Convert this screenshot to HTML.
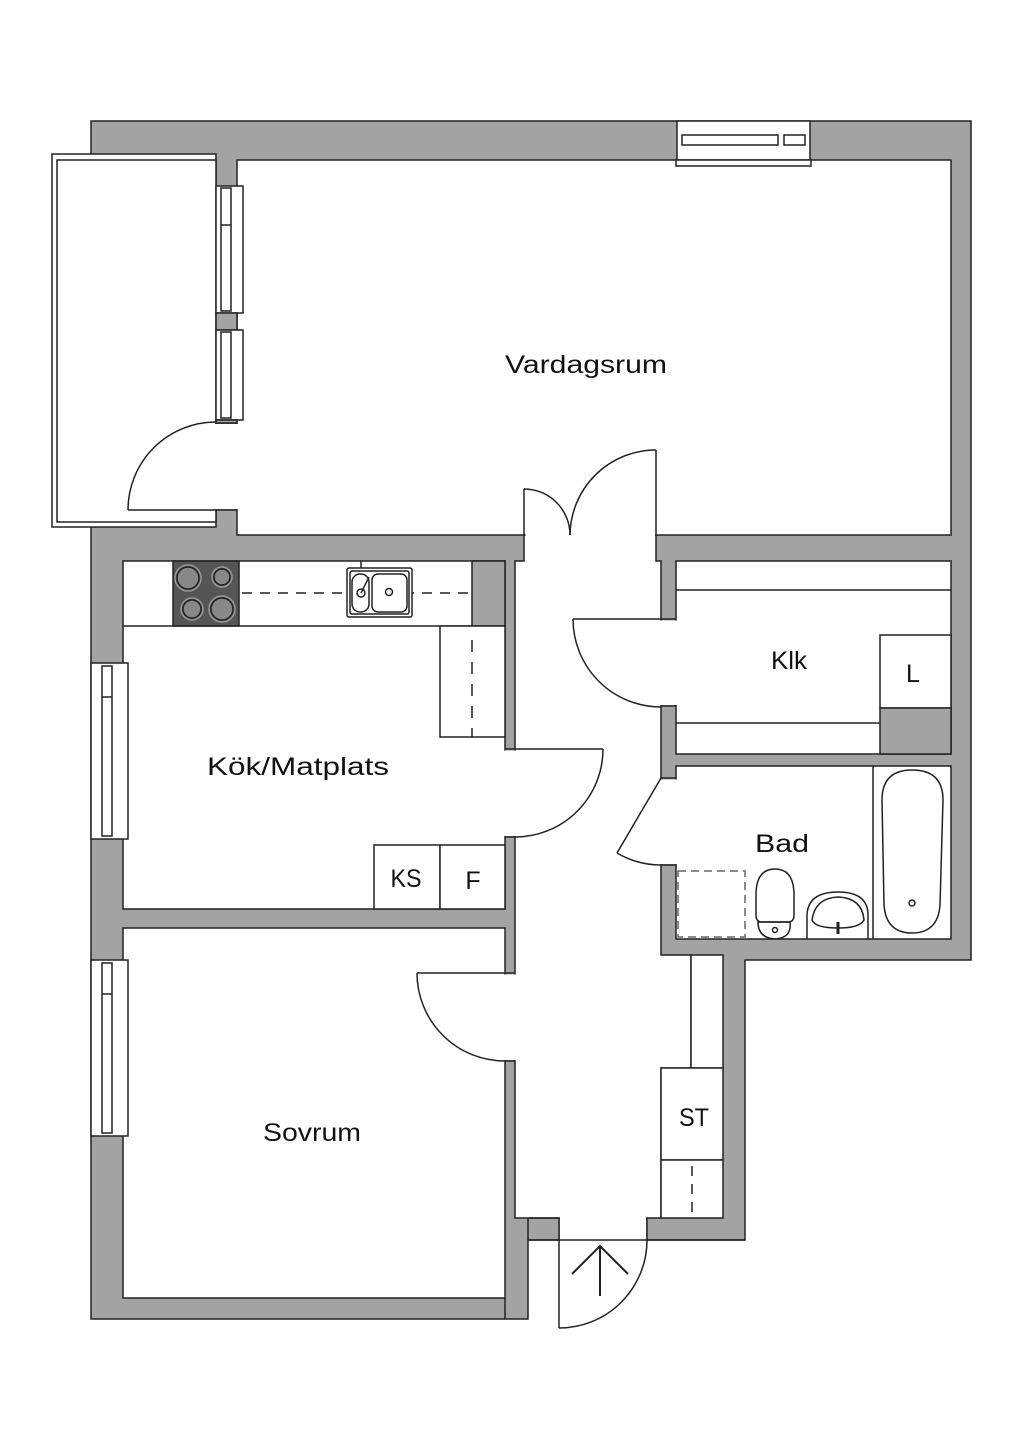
<!DOCTYPE html>
<html><head><meta charset="utf-8"><style>
html,body{margin:0;padding:0;background:#fff;}
svg{display:block;}
text{font-family:"Liberation Sans",sans-serif;fill:#111;font-size:25px;}
</style></head><body>
<svg width="1024" height="1448" viewBox="0 0 1024 1448" xmlns="http://www.w3.org/2000/svg">
<g stroke="#222" stroke-width="1.5" fill="none">
<polygon points="91,121 971,121 971,960 745,960 745,1240 528,1240 528,1319 91,1319" fill="#a3a3a3"/>
<rect x="52" y="154" width="164" height="373" fill="#fff"/>
<rect x="57" y="160" width="159" height="362" fill="#fff"/>
<rect x="237" y="160" width="714" height="375" fill="#fff"/>
<rect x="123" y="561" width="382" height="348" fill="#fff"/>
<rect x="123" y="928" width="382" height="370" fill="#fff"/>
<rect x="676" y="561" width="275" height="193" fill="#fff"/>
<rect x="676" y="766" width="275" height="173" fill="#fff"/>
<polygon points="524,535 656,535 656,561 661,561 661,955 691,955 691,1068 661,1068 661,1218 515,1218 515,561 524,561" fill="#fff"/>
<rect x="691" y="955" width="32" height="113" fill="#fff"/>
</g>
<g fill="#fff">
<rect x="525.5" y="530" width="129.5" height="10"/>
<rect x="213" y="424" width="27" height="85"/>
<rect x="503" y="750.5" width="14" height="85.5"/>
<rect x="503" y="974.5" width="14" height="85.5"/>
<rect x="659" y="620.5" width="19" height="84.5"/>
<rect x="659" y="779.5" width="19" height="84.5"/>
<rect x="560" y="1216" width="86" height="26"/>
</g>
<g stroke="#222" stroke-width="1.5" fill="none">
<line x1="216" y1="423" x2="237" y2="423"/><line x1="216" y1="510" x2="237" y2="510"/>
<line x1="505" y1="749" x2="515" y2="749"/><line x1="505" y1="837" x2="515" y2="837"/>
<line x1="505" y1="973" x2="515" y2="973"/><line x1="505" y1="1061" x2="515" y2="1061"/>
<line x1="661" y1="619" x2="676" y2="619"/><line x1="661" y1="706" x2="676" y2="706"/>
<line x1="661" y1="778" x2="676" y2="778"/><line x1="661" y1="865" x2="676" y2="865"/>
<line x1="647" y1="1218" x2="647" y2="1240"/>
<line x1="528" y1="1240" x2="745" y2="1240"/>
<line x1="528" y1="1218" x2="559" y2="1218"/><line x1="528" y1="1218" x2="528" y2="1240"/>
<line x1="505" y1="1298" x2="505" y2="1319"/>
<line x1="128" y1="510" x2="216" y2="510"/><path d="M216,422 A88,88 0 0 0 128,510"/>
<line x1="524" y1="489" x2="524" y2="535"/><path d="M524,489 A46,46 0 0 1 570,535"/>
<line x1="656" y1="450" x2="656" y2="535"/><path d="M656,450 A86,86 0 0 0 570,535"/>
<line x1="515" y1="749" x2="603" y2="749"/><path d="M603,749 A88,88 0 0 1 515,837"/>
<line x1="417" y1="973" x2="505" y2="973"/><path d="M417,973 A88,88 0 0 0 505,1061"/>
<line x1="573" y1="619" x2="661" y2="619"/><path d="M573,619 A88,88 0 0 0 661,707"/>
<line x1="661" y1="778" x2="617" y2="853"/><path d="M617,853 A87,87 0 0 0 661,865"/>
<line x1="559" y1="1218" x2="559" y2="1328"/><path d="M647,1240 A88,88 0 0 1 559,1328"/>
<g stroke-width="2"><line x1="600" y1="1246" x2="600" y2="1296"/><polyline points="572,1274 600,1246 628,1274"/></g>
<rect x="677" y="121" width="133" height="39" fill="#fff"/>
<rect x="676" y="160" width="135" height="6" fill="#fff"/>
<rect x="682" y="135" width="96" height="10" fill="#fff"/>
<rect x="784" y="135" width="21" height="10" fill="#fff"/>
<rect x="216" y="186" width="27" height="127" fill="#fff"/>
<rect x="221" y="188" width="10" height="123"/><line x1="221" y1="225" x2="231" y2="225"/>
<rect x="216" y="313" width="21" height="17" fill="#a3a3a3"/>
<rect x="216" y="330" width="27" height="90" fill="#fff"/>
<rect x="221" y="332" width="10" height="86"/>
<rect x="216" y="420" width="21" height="3" fill="#a3a3a3"/>
<rect x="91" y="663" width="37" height="176" fill="#fff"/>
<rect x="102" y="666" width="10" height="170"/><line x1="102" y1="697" x2="112" y2="697"/>
<rect x="91" y="960" width="37" height="176" fill="#fff"/>
<rect x="102" y="963" width="10" height="170"/><line x1="102" y1="994" x2="112" y2="994"/>
<line x1="123" y1="626" x2="472" y2="626"/>
<rect x="472" y="561" width="33" height="65" fill="#a3a3a3"/>
<rect x="173" y="561" width="66" height="65" fill="#555"/>
<g fill="#888" stroke="#222"><circle cx="188" cy="578" r="11"/><circle cx="222" cy="577" r="8"/><circle cx="192" cy="609" r="9"/><circle cx="222" cy="609" r="11"/></g>
<g stroke="#999"><circle cx="188" cy="578" r="13"/><circle cx="222" cy="577" r="10"/><circle cx="192" cy="609" r="11"/><circle cx="222" cy="609" r="13"/></g>
<line x1="242" y1="593" x2="470" y2="593" stroke-dasharray="10,8"/>
<rect x="347" y="568" width="65" height="49" rx="2" fill="#fff"/>
<rect x="350" y="571" width="59" height="43" rx="2"/>
<rect x="352" y="574" width="17" height="38" rx="8"/>
<rect x="372" y="574" width="35" height="38" rx="6"/>
<circle cx="361" cy="593" r="4"/><circle cx="389" cy="592" r="3.5"/>
<line x1="361" y1="593" x2="369" y2="577"/><line x1="361" y1="561" x2="361" y2="568"/>
<rect x="440" y="626" width="65" height="111" fill="#fff"/>
<line x1="472" y1="640" x2="472" y2="737" stroke-dasharray="12,10"/>
<rect x="374" y="845" width="66" height="64" fill="#fff"/>
<rect x="440" y="845" width="65" height="64" fill="#fff"/>
<line x1="676" y1="590" x2="951" y2="590"/>
<line x1="676" y1="723" x2="880" y2="723"/>
<rect x="880" y="635" width="71" height="73" fill="#fff"/>
<rect x="880" y="708" width="71" height="46" fill="#a3a3a3"/>
<line x1="873" y1="766" x2="873" y2="939"/>
<path d="M882,800 Q882,770 912,770 Q943,770 943,800 L940,905 Q938,933 912,933 Q886,933 884,905 Z"/>
<circle cx="912" cy="903" r="3"/>
<rect x="678" y="871" width="67" height="66" stroke="#666" stroke-dasharray="8,5"/>
<path d="M756,895 Q756,869 775,869 Q794,869 794,895 L794,915 Q794,922 788,922 L762,922 Q756,922 756,915 Z"/>
<path d="M758,922 L790,922 Q792,938 775,939 Q758,938 758,922 Z"/>
<circle cx="775" cy="930" r="2.5"/>
<path d="M807,939 L807,915 Q808,892 838,892 Q868,892 868,915 L868,939"/>
<path d="M812,920 Q815,898 838,897 Q862,898 864,920 Q860,928 838,928 Q815,928 812,920 Z"/>
<line x1="838" y1="922" x2="838" y2="934" stroke-width="3"/>
<rect x="661" y="1068" width="62" height="92" fill="#fff"/>
<rect x="661" y="1160" width="62" height="58" fill="#fff"/>
<line x1="692" y1="1166" x2="692" y2="1216" stroke-dasharray="10,8"/>
</g>
<text x="586" y="373" text-anchor="middle" textLength="162" lengthAdjust="spacingAndGlyphs">Vardagsrum</text>
<text x="298" y="775" text-anchor="middle" textLength="182" lengthAdjust="spacingAndGlyphs">Kök/Matplats</text>
<text x="312" y="1141" text-anchor="middle" textLength="98" lengthAdjust="spacingAndGlyphs">Sovrum</text>
<text x="789" y="669" text-anchor="middle" textLength="36" lengthAdjust="spacingAndGlyphs">Klk</text>
<text x="913" y="682" text-anchor="middle">L</text>
<text x="782" y="852" text-anchor="middle" textLength="54" lengthAdjust="spacingAndGlyphs">Bad</text>
<text x="406" y="887" text-anchor="middle" textLength="31" lengthAdjust="spacingAndGlyphs">KS</text>
<text x="473" y="889" text-anchor="middle">F</text>
<text x="694" y="1126" text-anchor="middle" textLength="30" lengthAdjust="spacingAndGlyphs">ST</text>
</svg>
</body></html>
